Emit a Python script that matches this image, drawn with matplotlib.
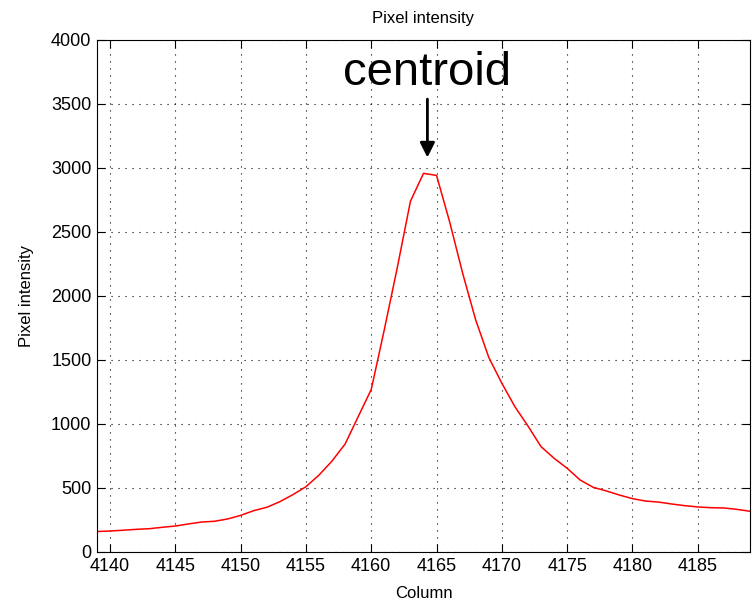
import numpy as np
import matplotlib.pyplot as plt

plt.rcParams['font.family'] = ['Liberation Sans', 'DejaVu Sans']

# Pixel intensity profile across columns
columns = np.arange(4139, 4190)
intensity = [160, 164, 170, 177, 182, 193, 203, 219, 234, 240,
             258, 286, 323, 349, 393, 448, 510, 601, 711, 844,
             1057, 1270, 1737, 2225, 2740, 2958, 2942, 2580, 2177, 1812,
             1520, 1318, 1135, 984, 823, 732, 654, 562, 505, 477,
             445, 417, 398, 390, 375, 362, 352, 346, 344, 333,
             318]
centroid_col = 4164.3

fig = plt.figure(figsize=(7.53, 6.04), dpi=100)
ax = fig.add_axes([0.1288, 0.0861, 0.8672, 0.8477])

ax.plot(columns, intensity, color='red', lw=1.1)

ax.set_xlim(4139, 4189)
ax.set_ylim(0, 4000)
ax.set_xticks(np.arange(4140, 4189, 5))
ax.set_yticks(np.arange(0, 4001, 500))
ax.grid(True, color='black', linestyle=(0, (1, 5.3)), lw=0.8)
ax.tick_params(direction='in', top=True, right=True, length=6, labelsize=13, pad=4)

ax.set_title("Pixel intensity", fontsize=12, pad=12)
ax.set_xlabel("Column", fontsize=12, labelpad=8)
ax.set_ylabel("Pixel intensity", fontsize=12, labelpad=12)

# centroid marker
ax.annotate('', xy=(centroid_col, 3060), xytext=(centroid_col, 3560),
            arrowprops=dict(arrowstyle='-|>', color='black', lw=2, mutation_scale=22))
ax.text(centroid_col, 3650, "centroid", fontsize=34, ha='center', va='baseline')

plt.savefig("out.png", dpi=100)
